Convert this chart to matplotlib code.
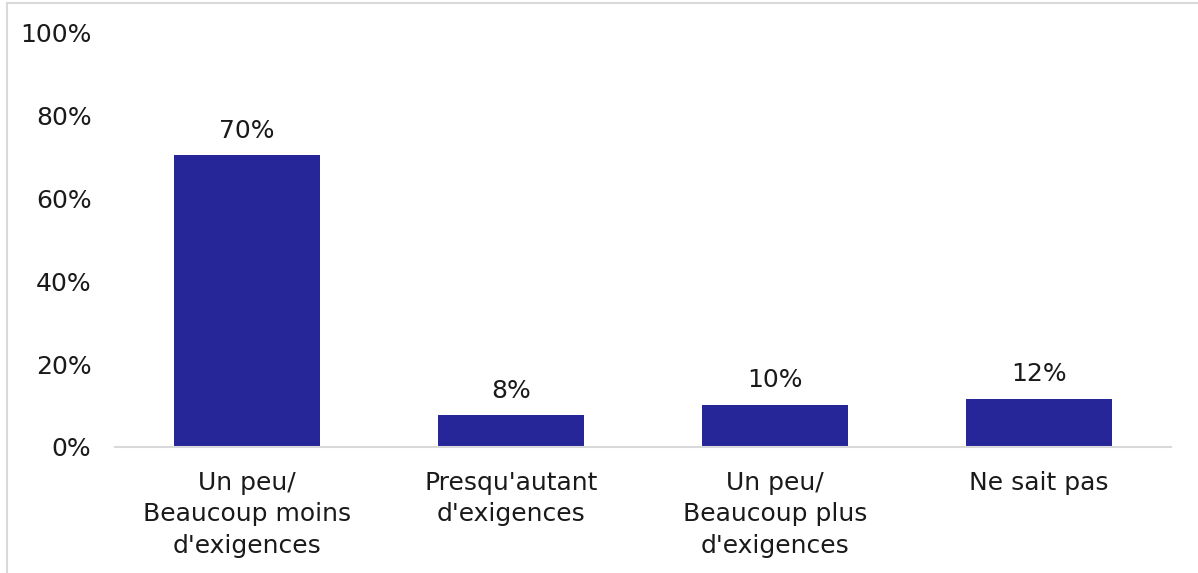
import matplotlib
matplotlib.use("Agg")
import matplotlib.pyplot as plt
from matplotlib.patches import Rectangle

categories = ["Un peu/\nBeaucoup moins\nd'exigences", "Presqu'autant\nd'exigences",
              "Un peu/\nBeaucoup plus\nd'exigences", "Ne sait pas"]
values = [70.4, 7.6, 10.2, 11.7]
labels = ["70%", "8%", "10%", "12%"]
y_ticks = [0, 20, 40, 60, 80, 100]

BAR_COLOR = "#262699"
TEXT_COLOR = "#1a1a1a"
plt.rcParams["font.family"] = ["DejaVu Sans"]

fig = plt.figure(figsize=(11.98, 5.73), dpi=100)
ax = fig.add_axes([0.096, 0.22, 0.8815, 0.7225])

# light frame around the whole chart
fig.patches.append(Rectangle((0.006, -0.01), 1.2, 1.0045, transform=fig.transFigure,
                             fill=False, edgecolor="#d9d9d9", linewidth=1.5))

x = range(len(categories))
ax.bar(x, values, width=0.553, color=BAR_COLOR)
for xi, v, lab in zip(x, values, labels):
    ax.text(xi, v + 3.0, lab, ha="center", va="bottom", fontsize=18, color=TEXT_COLOR)

ax.set_xlim(-0.5, len(categories) - 0.5)
ax.set_ylim(0, 100)
ax.set_yticks(y_ticks)
ax.set_yticklabels([f"{t}%" for t in y_ticks], fontsize=18, color=TEXT_COLOR)
ax.set_xticks(list(x))
ax.set_xticklabels(categories, fontsize=18, color=TEXT_COLOR, linespacing=1.4)
ax.tick_params(axis="x", length=0, pad=17)
ax.tick_params(axis="y", length=0, pad=17)
for side in ["top", "right", "left"]:
    ax.spines[side].set_visible(False)
ax.spines["bottom"].set_color("#d9d9d9")
ax.spines["bottom"].set_linewidth(1.5)

fig.savefig("out.png", dpi=100)
